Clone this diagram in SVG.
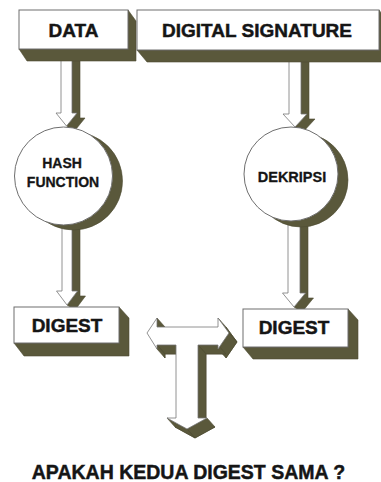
<svg xmlns="http://www.w3.org/2000/svg" width="381" height="482" viewBox="0 0 381 482">
  <style>
    .face { fill: #ffffff; stroke: #6e6e6e; stroke-width: 1; }
    .depth { fill: #5a583b; stroke: #4d4b32; stroke-width: 0.6; stroke-linejoin: round; }
    .arrow { fill: #ffffff; stroke: #777777; stroke-width: 0.8; }
    .lbl { font-family: "Liberation Sans", Arial, sans-serif; font-weight: bold; fill: #151515; stroke: #151515; stroke-width: 0.45; text-anchor: middle; }
    .big { font-size: 19px; }
    .small { font-size: 14px; stroke-width: 0.3; }
  </style>

  <rect width="381" height="482" fill="#ffffff"/>

  <!-- block arrows: olive extrusion first, white front face on top -->
  <g id="connectors">
    <g id="arrow-data-hash">
      <polygon class="depth" points="72,52 80,57 80,118 85,118 74.5,131 66.5,126 77,113 72,113"/>
      <path class="arrow" d="M61,52 L72,52 L72,113 L77,113 L66.5,126 L56,113 L61,113 Z"/>
    </g>
    <g id="arrow-signature-dekripsi">
      <polygon class="depth" points="301,52 309,57 309,119 315,119 303,132 295,127 307,114 301,114"/>
      <path class="arrow" d="M289,52 L301,52 L301,114 L307,114 L295,127 L283,114 L289,114 Z"/>
    </g>
    <g id="arrow-hash-digest">
      <polygon class="depth" points="72,215 80,220 80,296 85.5,296 75,310 67,305 77.5,291 72,291"/>
      <path class="arrow" d="M62,215 L72,215 L72,291 L77.5,291 L67,305 L56.5,291 L62,291 Z"/>
    </g>
    <g id="arrow-dekripsi-digest">
      <polygon class="depth" points="300,210 308,215 308,298 313.5,298 302,312 294,307 305.5,293 300,293"/>
      <path class="arrow" d="M288,210 L300,210 L300,293 L305.5,293 L294,307 L282.5,293 L288,293 Z"/>
    </g>
    <g id="arrow-compare">
      <path class="depth" d="M155,342 L165,327 L165,336 L226,336 L226,327 L237,342 L226,358 L226,354 L206,354 L206,427 L215,427 L195,438 L175,427 L184,427 L184,354 L165,354 L165,358 Z"/>
      <polygon class="depth" points="157,318 157,327 165,336 165,327"/>
      <polygon class="depth" points="218,318 229,333 237,342 226,327"/>
      <polygon class="depth" points="229,333 218,349 226,358 237,342"/>
      <polygon class="depth" points="218,345 198,345 206,354 226,354"/>
      <polygon class="depth" points="198,345 198,418 206,427 206,354"/>
      <polygon class="depth" points="207,418 187,429 195,438 215,427"/>
      <polygon class="depth" points="187,429 167,418 175,427 195,438"/>
      <polygon class="depth" points="176,345 157,345 165,354 184,354"/>
      <polygon class="depth" points="157,345 157,349 165,358 165,354"/>
      <path class="arrow" d="M147,333 L157,318 L157,327 L218,327 L218,318 L229,333 L218,349 L218,345 L198,345 L198,418 L207,418 L187,429 L167,418 L176,418 L176,345 L157,345 L157,349 Z"/>
    </g>
  </g>

  <g id="node-data">
    <polygon class="depth" points="19,49 128,49 128,10 136,21 136,61 27,61"/>
    <rect class="face" x="19" y="10" width="109" height="39"/>
    <text class="lbl big" x="73.5" y="37">DATA</text>
  </g>

  <g id="node-signature">
    <polygon class="depth" points="137,50 379,50 379,10 387,21 387,62 147,62"/>
    <rect class="face" x="137" y="10" width="242" height="40"/>
    <text class="lbl big" x="257" y="37">DIGITAL SIGNATURE</text>
  </g>

  <g id="node-hash">
    <circle class="depth" cx="73.5" cy="181" r="49"/>
    <circle class="face" cx="63.5" cy="176" r="49"/>
    <text class="lbl small" x="62" y="168">HASH</text>
    <text class="lbl small" x="63" y="187">FUNCTION</text>
  </g>

  <g id="node-dekripsi">
    <circle class="depth" cx="301" cy="180" r="47"/>
    <circle class="face" cx="291" cy="174" r="47"/>
    <text class="lbl small" x="292" y="182" style="font-size:14.5px">DEKRIPSI</text>
  </g>

  <g id="node-digest-hash">
    <polygon class="depth" points="14,343 119,343 119,307 129,318 129,356 24,356"/>
    <rect class="face" x="14" y="307" width="105" height="36"/>
    <text class="lbl big" x="67" y="332">DIGEST</text>
  </g>

  <g id="node-digest-dekripsi">
    <polygon class="depth" points="243,347 348,347 348,309 358,320 358,359 253,359"/>
    <rect class="face" x="243" y="309" width="105" height="38"/>
    <text class="lbl big" x="294" y="334">DIGEST</text>
  </g>

  <g id="node-question">
    <text class="lbl" x="188.5" y="479" style="font-size:19.5px">APAKAH KEDUA DIGEST SAMA ?</text>
  </g>
</svg>
